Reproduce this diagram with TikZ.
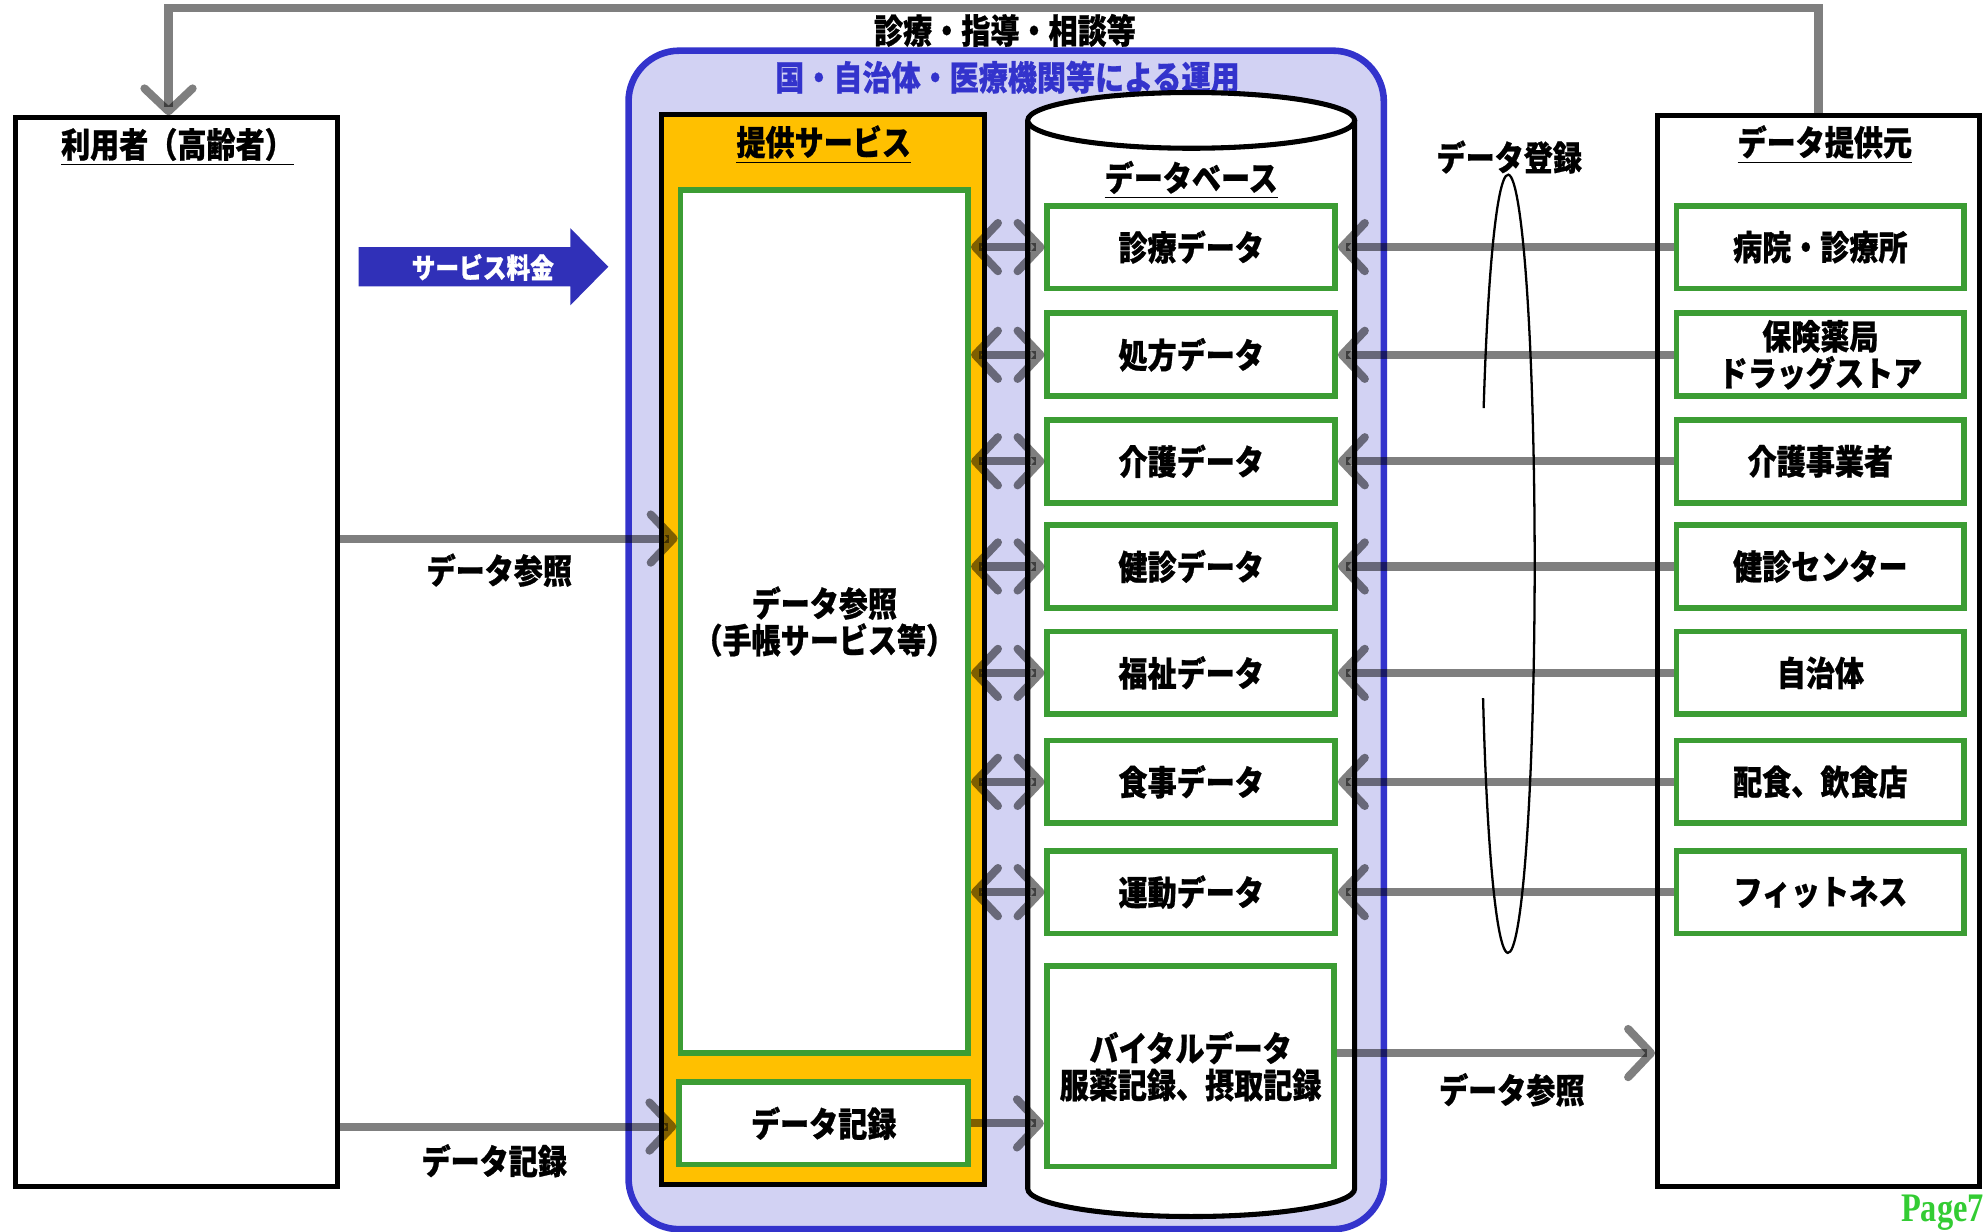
\documentclass[tikz,border=0pt]{standalone}
\usepackage{fontspec}
\usepackage{tikz}
\usetikzlibrary{arrows.meta}
\newfontfamily\jpfont{Noto Sans CJK JP}[FakeStretch=0.85, BoldFeatures={FakeBold=0.7}]
\newfontfamily\pagefont{Liberation Serif}[FakeStretch=0.8]

\begin{document}
\begin{tikzpicture}[x=0.5pt,y=0.5pt,yscale=-1,xscale=1,
  every node/.style={font=\jpfont\bfseries\fontsize{13.5}{14.5}\selectfont, inner sep=0pt, align=center},
  outerbox/.style={draw=black, line width=2pt, fill=white},
  svcbox/.style={draw=black, line width=2pt, fill={rgb, 255:red, 255; green, 192; blue, 0 }},
  opsbox/.style={draw={rgb, 255:red, 51; green, 51; blue, 204 }, line width=2.6pt, fill={rgb, 255:red, 210; green, 210; blue, 243 }, rounded corners=20pt},
  greenbox/.style={draw={rgb, 255:red, 60; green, 157; blue, 52 }, line width=2.3pt, fill=white},
  rowbox/.style={greenbox, minimum width=113.5pt, minimum height=32.7pt},
  canbody/.style={draw=black, line width=2pt, fill=white},
  flowline/.style={draw=black, draw opacity=0.5, line width=3.2pt},
  flowarrow/.style={flowline, -{Straight Barb[length=9pt,width=19pt,round]}},
  bothflow/.style={flowline, {Straight Barb[length=9pt,width=19pt,round]}-{Straight Barb[length=9pt,width=19pt,round]}},
  bracketline/.style={draw=black, line width=0.9pt},
  feearrow/.style={fill={rgb, 255:red, 48; green, 48; blue, 184 }},
]
\useasboundingbox (0,0) rectangle (1568,972);

%Shape: Rounded Rect (operation)
\node [opsbox, minimum width=298pt, minimum height=465pt] (ops) at (794,505) {};
\node [text={rgb, 255:red, 51; green, 51; blue, 204 }] (opsTitle) at (795,61) {国・自治体・医療機関等による運用};

%Shape: Rectangle (user / source)
\node [outerbox, minimum width=127pt, minimum height=421.5pt] (user) at (139,514.5) {};
\node (userTitle) at (140,116) {\underline{利用者（高齢者）}};
\node [outerbox, minimum width=127pt, minimum height=422.5pt] (src) at (1435,513.5) {};
\node (srcTitle) at (1440,114) {\underline{データ提供元}};

%Shape: Rectangle (service)
\node [svcbox, minimum width=127.5pt, minimum height=422.5pt] (svc) at (649.5,512.5) {};
\node (svcTitle) at (650,114) {\underline{提供サービス}};
\node [greenbox, minimum width=113.5pt, minimum height=340.5pt] (ref) at (650.5,490.5) {データ参照\\（手帳サービス等）};
\node [greenbox, minimum width=114pt, minimum height=32.5pt] (rec) at (650,886.5) {データ記録};

%Shape: Can (database)
\draw [canbody] (811,95) -- (811,938) arc[start angle=180, end angle=0, x radius=129, y radius=22] -- (1069,95) ;
\draw [canbody] (940,95) ellipse [x radius=129, y radius=22] ;
\node (dbTitle) at (940,142) {\underline{データベース}};
\node [rowbox] (dbMed) at (940,195) {診療データ};
\node [rowbox] (dbRx) at (940,280) {処方データ};
\node [rowbox] (dbCare) at (940,364) {介護データ};
\node [rowbox] (dbCheck) at (940,447) {健診データ};
\node [rowbox] (dbWel) at (940,531) {福祉データ};
\node [rowbox] (dbMeal) at (940,617) {食事データ};
\node [rowbox] (dbFit) at (940,704) {運動データ};
\node [rowbox, minimum height=79pt] (dbVital) at (939.5,841.5) {バイタルデータ\\服薬記録、摂取記録};

%Shape: Rectangle (providers)
\node [rowbox] (srcHosp) at (1436.5,195) {病院・診療所};
\node [rowbox] (srcPharm) at (1436.5,280) {保険薬局\\ドラッグストア};
\node [rowbox] (srcCare) at (1436.5,364) {介護事業者};
\node [rowbox] (srcCheck) at (1436.5,447) {健診センター};
\node [rowbox] (srcGov) at (1436.5,531) {自治体};
\node [rowbox] (srcMeal) at (1436.5,617) {配食、飲食店};
\node [rowbox] (srcFit) at (1436.5,704) {フィットネス};

%Shape: Right Arrow (fee)
\fill [feearrow] (283,195) -- (450,195) -- (450,180) -- (480,210.5) -- (450,241) -- (450,226) -- (283,226) -- cycle ;
\node [text=white, font=\jpfont\bfseries\fontsize{11}{13}\selectfont] (fee) at (381,211) {サービス料金};

%Straight Lines (feedback)
\draw [flowarrow] (src.north) -- ++(0,-83) -| ([xshift=-3pt]user.north) ;
\node (careLbl) at (793,24) {診療・指導・相談等};

%Straight Lines (user side)
\draw [flowarrow] (user.east |- 0,425) -- (ref.west |- 0,425) ;
\node (refLbl) at (394,450) {データ参照};
\draw [flowarrow] (user.east |- 0,889) -- (rec.west |- 0,889) ;
\node (recLbl) at (390,916) {データ記録};
\draw [flowarrow] (rec.east) -- (rec.east -| dbVital.west) ;

%Straight Lines (service <-> database)
\draw [bothflow] (ref.east |- dbMed.west) -- (dbMed.west) ;
\draw [bothflow] (ref.east |- dbRx.west) -- (dbRx.west) ;
\draw [bothflow] (ref.east |- dbCare.west) -- (dbCare.west) ;
\draw [bothflow] (ref.east |- dbCheck.west) -- (dbCheck.west) ;
\draw [bothflow] (ref.east |- dbWel.west) -- (dbWel.west) ;
\draw [bothflow] (ref.east |- dbMeal.west) -- (dbMeal.west) ;
\draw [bothflow] (ref.east |- dbFit.west) -- (dbFit.west) ;

%Straight Lines (providers -> database)
\draw [flowarrow] (srcHosp.west) -- (dbMed.east) ;
\draw [flowarrow] (srcPharm.west) -- (dbRx.east) ;
\draw [flowarrow] (srcCare.west) -- (dbCare.east) ;
\draw [flowarrow] (srcCheck.west) -- (dbCheck.east) ;
\draw [flowarrow] (srcGov.west) -- (dbWel.east) ;
\draw [flowarrow] (srcMeal.west) -- (dbMeal.east) ;
\draw [flowarrow] (srcFit.west) -- (dbFit.east) ;
\draw [flowarrow] (dbVital.east |- 0,831) -- (src.west |- 0,831) ;
\node (viewLbl) at (1193,860) {データ参照};

%Shape: Ellipse (registration)
\draw [bracketline] (1170.8,322) arc[start angle=203.6, end angle=519.8, x radius=21, y radius=307] ;
\node (regLbl) at (1191,124) {データ登録};

\node [anchor=base east, text={rgb, 255:red, 51; green, 204; blue, 51 }, font=\pagefont\bfseries\fontsize{16}{18}\selectfont] (page) at (1566,964) {Page7};
\end{tikzpicture}
\end{document}
